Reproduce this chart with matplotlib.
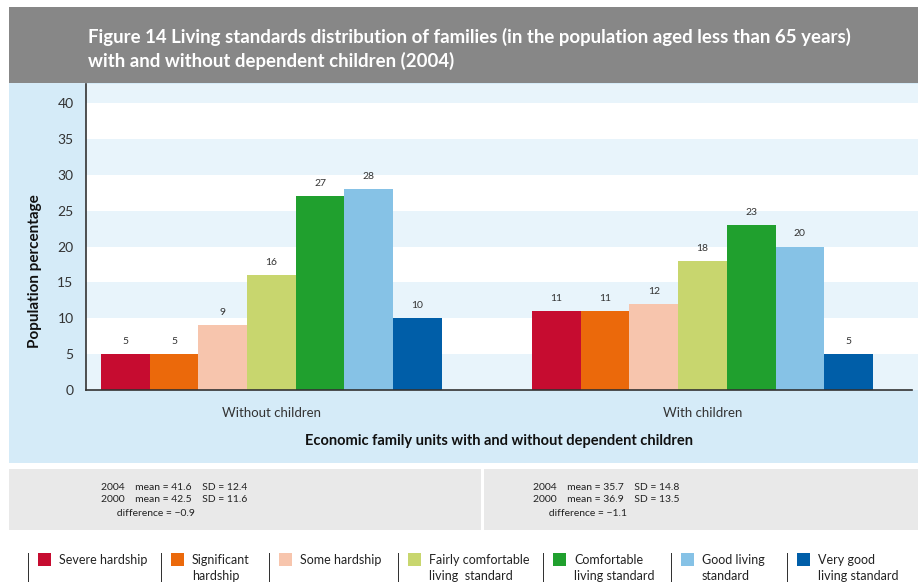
import matplotlib
matplotlib.use("Agg")
import matplotlib.pyplot as plt
from matplotlib.patches import Rectangle
import numpy as np

# ---- data ----
groups = ["Without children", "With children"]
levels = ["Severe hardship", "Significant\nhardship", "Some hardship",
          "Fairly comfortable\nliving  standard", "Comfortable\nliving standard",
          "Good living\nstandard", "Very good\nliving standard"]
without_children = [5, 5, 9, 16, 27, 28, 10]
with_children = [11, 11, 12, 18, 23, 20, 5]
colors = ["#c60c30", "#eb690b", "#f7c5ad", "#c8d66e", "#20a02e", "#86c2e6", "#005ea8"]
yticks = [0, 5, 10, 15, 20, 25, 30, 35, 40]
stats_without = ["2004    mean = 41.6    SD = 12.4",
                 "2000    mean = 42.5    SD = 11.6",
                 "      difference = \u22120.9"]
stats_with = ["2004    mean = 35.7    SD = 14.8",
              "2000    mean = 36.9    SD = 13.5",
              "      difference = \u22121.1"]
title = ("Figure 14 Living standards distribution of families (in the population aged less than 65 years)\n"
         "with and without dependent children (2004)")

plt.rcParams["font.family"] = ["Lato", "DejaVu Sans"]

W, H = 918, 582
fig = plt.figure(figsize=(W / 100, H / 100), dpi=100)
fig.patch.set_facecolor("white")


def fx(px):
    return px / W


def fy(py):
    return 1 - py / H


def frect(x0, y0, x1, y1, color, z=-2):
    fig.patches.append(Rectangle((fx(x0), fy(y1)), fx(x1) - fx(x0), fy(y0) - fy(y1),
                                 transform=fig.transFigure, facecolor=color,
                                 edgecolor="none", zorder=z))


# title band and chart panel
frect(9, 7, 918, 83, "#878787")
frect(9, 83, 918, 463, "#d5ebf8")
fig.text(fx(88), fy(49), title, color="white", fontsize=13.4, fontweight="bold",
         ha="left", va="center", linespacing=1.4)

# stats panel
frect(9, 469, 918, 530, "#e9e9e9")
frect(481, 469, 484, 530, "white", z=-1)
for x0, lines in ((101, stats_without), (533, stats_with)):
    for i, line in enumerate(lines):
        fig.text(fx(x0), fy(487 + 13 * i), line, fontsize=7.5, color="#222222",
                 ha="left", va="center")

# plotting area
ax_left, ax_right, ax_top, ax_bottom = 86, 918, 84, 390
ax = fig.add_axes([fx(ax_left), fy(ax_bottom), fx(ax_right) - fx(ax_left),
                   fy(ax_top) - fy(ax_bottom)])
ax.set_zorder(5)
ax.set_facecolor("white")
ymax = (ax_bottom - ax_top) / ((390 - 103) / 40)
ax.set_ylim(0, ymax)
ax.set_xlim(-0.430, 1.500)

for lo in range(0, 45, 10):
    ax.axhspan(lo, min(lo + 5, ymax), color="#e8f4fb", lw=0, zorder=0)

n = len(levels)
width = 0.113
x = np.arange(len(groups))
for i in range(n):
    vals = [without_children[i], with_children[i]]
    pos = x + (i - (n - 1) / 2) * width
    ax.bar(pos, vals, width=width, color=colors[i], zorder=2, linewidth=0)
    for p, v in zip(pos, vals):
        ax.annotate(str(v), (p, v), xytext=(0, 6), textcoords="offset points",
                    ha="center", va="bottom", fontsize=7.5, color="#333333")

ax.set_yticks(yticks)
ax.set_xticks(x)
ax.set_xticklabels(groups)
ax.tick_params(axis="both", length=0, colors="#333333")
ax.tick_params(axis="y", pad=9, labelsize=10)
ax.tick_params(axis="x", pad=12, labelsize=9.5)
for s in ("top", "right"):
    ax.spines[s].set_visible(False)
for s in ("left", "bottom"):
    ax.spines[s].set_color("#333333")
    ax.spines[s].set_linewidth(1.2)
    ax.spines[s].set_zorder(3)
ax.spines["bottom"].set_bounds(-0.430, (912 - 271.35) / 431)

ax_w = ax_right - ax_left
ax_h = ax_bottom - ax_top
ax.set_ylabel("Population percentage", fontsize=11, fontweight="bold", color="#111111")
ax.yaxis.set_label_coords((42 - ax_left) / ax_w, (ax_bottom - 271) / ax_h)
fig.text(fx(499), fy(441), "Economic family units with and without dependent children",
         fontsize=10.5, fontweight="bold", color="#111111", ha="center", va="center")

# legend row
seps = [28, 161, 269, 398, 543, 671, 787]
for sx, lab, col in zip(seps, levels, colors):
    frect(sx, 553, sx + 1.3, 582, "#333333", z=2)
    frect(sx + 10, 553, sx + 23, 566, col, z=2)
    fig.text(fx(sx + 31), fy(554), lab, fontsize=9, color="#222222",
             ha="left", va="top", linespacing=1.4)

fig.savefig("out.png", dpi=100)
